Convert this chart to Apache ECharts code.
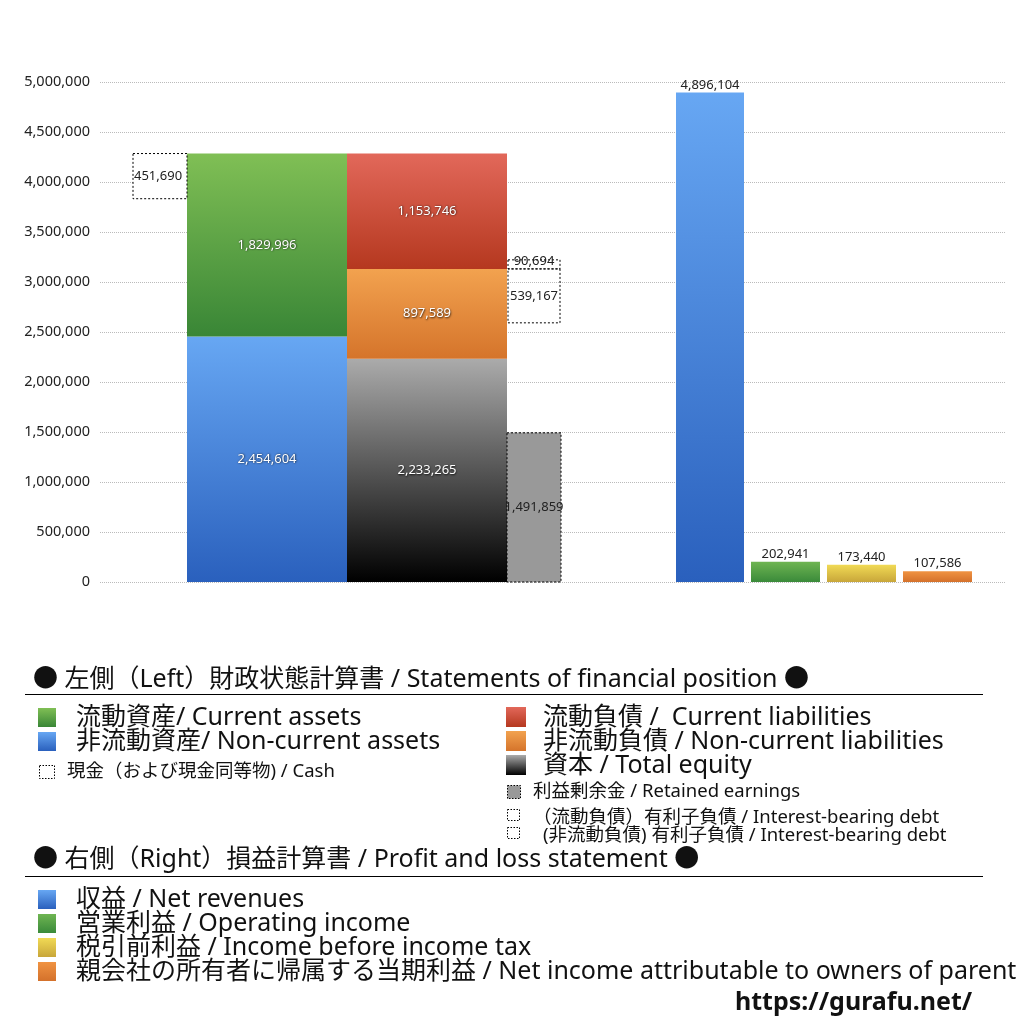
<!DOCTYPE html>
<html>
<head>
<meta charset="utf-8">
<script src="https://cdn.jsdelivr.net/npm/echarts@6/dist/echarts.min.js"></script>
<style>
html,body{margin:0;padding:0;background:#fff;}
#c{width:1024px;height:1024px;}
</style>
</head>
<body>
<div id="c"></div>
<script>
// ---------- DATA ----------
// Statement of financial position (left)
const assetNames = ['非流動資産', '流動資産'];
const assetValues = [2454604, 1829996];
const liabilityNames = ['資本', '非流動負債', '流動負債'];
const liabilityValues = [2233265, 897589, 1153746];
const cashValue = [451690];
const retainedEarningsValue = [1491859];
const debtNames = ['(非流動負債) 有利子負債', '（流動負債）有利子負債'];
const debtValues = [539167, 90694];
// Profit and loss statement (right)
const plNames = ['収益', '営業利益', '税引前利益', '親会社の所有者に帰属する当期利益'];
const plValues = [4896104, 202941, 173440, 107586];
// Y axis
const yTicks = [0, 500000, 1000000, 1500000, 2000000, 2500000, 3000000, 3500000, 4000000, 4500000, 5000000];

// ---------- LAYOUT (x-axis units) ----------
const X = {
  cash: [33, 87], assets: [87, 247], liab: [247, 407], side: [407, 461], debt: [408, 460],
  pl: [[576, 644], [651, 720], [727, 796], [803, 872]]
};
const FONT = '"Noto Sans","Noto Sans CJK JP",sans-serif';
const fmt = v => Math.round(v).toLocaleString('en-US');
const grad = (a, b) => new echarts.graphic.LinearGradient(0, 0, 0, 1, [{offset: 0, color: a}, {offset: 1, color: b}]);

const C = {
  blue: ['#67a7f3', '#2a60bd'],
  green: ['#80bf55', '#398636'],
  red: ['#e2685a', '#b5381f'],
  orange: ['#f2a24f', '#d5742b'],
  black: ['#ababab', '#000000'],
  plGreen: ['#6fb552', '#3a8a3a'],
  plYellow: ['#f1da55', '#c8a63a'],
  plOrange: ['#f09342', '#d4712b']
};

function box(name, xr, y0, y1, labelVal, st, lab) {
  return {
    type: 'custom', name: name,
    encode: {x: [0, 1], y: [2, 3]},
    data: [[xr[0], xr[1], y0, y1, labelVal]],
    z: st.z || 2,
    renderItem: function (params, api) {
      const a = api.coord([api.value(0), api.value(3)]);
      const b = api.coord([api.value(1), api.value(2)]);
      const x = a[0], y = a[1], w = b[0] - a[0], h = b[1] - a[1];
      const children = [{
        type: 'rect', shape: {x: x, y: y, width: w, height: h},
        style: {fill: st.fill, stroke: st.stroke || null, lineWidth: st.stroke ? 1 : 0, lineDash: st.dash || null}
      }];
      let tx = x + w / 2, ty = y + h / 2, align = 'center', vAlign = 'middle';
      if (lab.pos === 'top') { ty = y - 1; vAlign = 'bottom'; }
      if (lab.pos === 'topEdge') { ty = y + 1; }
      if (lab.pos === 'left') { tx = x + 1; align = 'left'; }
      const ts = {
        text: fmt(api.value(4)), x: tx, y: ty, align: align, verticalAlign: vAlign,
        fill: lab.color || '#222', fontSize: 13, fontFamily: FONT
      };
      if (lab.white) {
        ts.textShadowColor = 'rgba(0,0,0,0.85)'; ts.textShadowBlur = 2; ts.textShadowOffsetX = 0.5; ts.textShadowOffsetY = 0.5;
      }
      children.push({type: 'text', style: ts, z2: 10});
      return {type: 'group', children: children};
    }
  };
}

const series = [];
// Assets stack
let base = 0;
const assetColors = [C.blue, C.green];
assetValues.forEach((v, i) => {
  series.push(box(assetNames[i], X.assets, base, base + v, v, {fill: grad(assetColors[i][0], assetColors[i][1])}, {color: '#fff', white: true}));
  base += v;
});
const totalAssets = base;
// Cash (top aligned with total assets)
series.push(box('現金', X.cash, totalAssets - cashValue[0], totalAssets, cashValue[0],
  {fill: '#fff', stroke: '#000', dash: [2, 2]}, {pos: 'left', color: '#222'}));
// Liabilities & equity stack
base = 0;
const liabColors = [C.black, C.orange, C.red];
const liabTops = [];
liabilityValues.forEach((v, i) => {
  series.push(box(liabilityNames[i], X.liab, base, base + v, v, {fill: grad(liabColors[i][0], liabColors[i][1])}, {color: '#fff', white: true}));
  base += v;
  liabTops.push(base);
});
// Retained earnings
series.push(box('利益剰余金', X.side, 0, retainedEarningsValue[0], retainedEarningsValue[0],
  {fill: '#999999', stroke: '#000', dash: [2, 2]}, {color: '#222'}));
// Interest-bearing debt: non-current below top of non-current liabilities, current above it
const ncTop = liabTops[1];
series.push(box(debtNames[0], X.debt, ncTop - debtValues[0], ncTop, debtValues[0],
  {fill: 'rgba(255,255,255,0)', stroke: '#000', dash: [2, 2], z: 3}, {color: '#222'}));
series.push(box(debtNames[1], X.debt, ncTop, ncTop + debtValues[1], debtValues[1],
  {fill: 'rgba(255,255,255,0)', stroke: '#000', dash: [2, 2], z: 3}, {pos: 'topEdge', color: '#222'}));
// P&L
const plColors = [C.blue, C.plGreen, C.plYellow, C.plOrange];
plValues.forEach((v, i) => {
  series.push(box(plNames[i], X.pl[i], 0, v, v, {fill: grad(plColors[i][0], plColors[i][1])}, {pos: 'top', color: '#222'}));
});

// ---------- LEGEND (static graphic) ----------
const g = [];
function txt(x, y, s, size, weight) {
  g.push({type: 'text', z: 10, style: {x: x, y: y, text: s, fontSize: size, fontWeight: weight || 'normal',
    fontFamily: FONT, fill: '#111', align: 'left', verticalAlign: 'middle'}});
}
function sq(x, y, w, h, fill, dashed) {
  g.push({type: 'rect', shape: {x: x, y: y, width: w, height: h},
    style: {fill: fill, stroke: dashed ? '#000' : null, lineWidth: dashed ? 1 : 0, lineDash: dashed ? [1.5, 1.5] : null}});
}
function hline(y) {
  g.push({type: 'line', shape: {x1: 25, y1: y, x2: 983, y2: y}, style: {stroke: '#000', lineWidth: 1}});
}
txt(33, 680, '● 左側（Left）財政状態計算書 / Statements of financial position ●', 25);
hline(694.5);
sq(38, 708, 18, 19, grad(C.green[0], C.green[1]));
txt(76, 718, '流動資産/ Current assets', 25);
sq(38, 732, 18, 19, grad(C.blue[0], C.blue[1]));
txt(76, 742, '非流動資産/ Non-current assets', 25);
sq(39.5, 765.5, 15, 13, '#fff', true);
txt(67, 772, '現金（および現金同等物) / Cash', 18.5);
sq(506, 707, 20, 20, grad(C.red[0], C.red[1]));
txt(543, 718, '流動負債 /  Current liabilities', 25);
sq(506, 731, 20, 20, grad(C.orange[0], C.orange[1]));
txt(543, 742, '非流動負債 / Non-current liabilities', 25);
sq(506, 755, 20, 20, grad(C.black[0], C.black[1]));
txt(543, 766, '資本 / Total equity', 25);
sq(507.5, 785.5, 13, 13, '#999', true);
txt(533, 792, '利益剰余金 / Retained earnings', 18.5);
sq(507.5, 809.5, 12, 11, '#fff', true);
txt(533, 818, '（流動負債）有利子負債 / Interest-bearing debt', 18.5);
sq(507.5, 827.5, 12, 11, '#fff', true);
txt(543, 836, '(非流動負債) 有利子負債 / Interest-bearing debt', 18.5);
txt(33, 860, '● 右側（Right）損益計算書 / Profit and loss statement ●', 25);
hline(876.5);
const plLegend = ['収益 / Net revenues', '営業利益 / Operating income', '税引前利益 / Income before income tax', '親会社の所有者に帰属する当期利益 / Net income attributable to owners of parent'];
plLegend.forEach((s, i) => {
  sq(38, 890 + i * 24, 18, 19, grad(plColors[i][0], plColors[i][1]));
  txt(76, 900 + i * 24, s, 25);
});
txt(735, 1003, 'https://gurafu.net/', 25, 'bold');

// ---------- CHART ----------
const chart = echarts.init(document.getElementById('c'));
chart.setOption({
  backgroundColor: '#fff',
  animation: false,
  grid: {left: 100, right: 19, top: 82, bottom: 442, containLabel: false},
  xAxis: {type: 'value', min: 0, max: 905, show: false},
  yAxis: {
    type: 'value', min: yTicks[0], max: yTicks[yTicks.length - 1], interval: yTicks[1] - yTicks[0],
    axisLine: {show: false}, axisTick: {show: false},
    axisLabel: {fontSize: 14.5, color: '#222', fontFamily: FONT, margin: 10, formatter: v => fmt(v)},
    splitLine: {lineStyle: {type: 'dotted', color: '#bbbbbb', width: 1}}
  },
  series: series,
  graphic: g
});
</script>
</body>
</html>
